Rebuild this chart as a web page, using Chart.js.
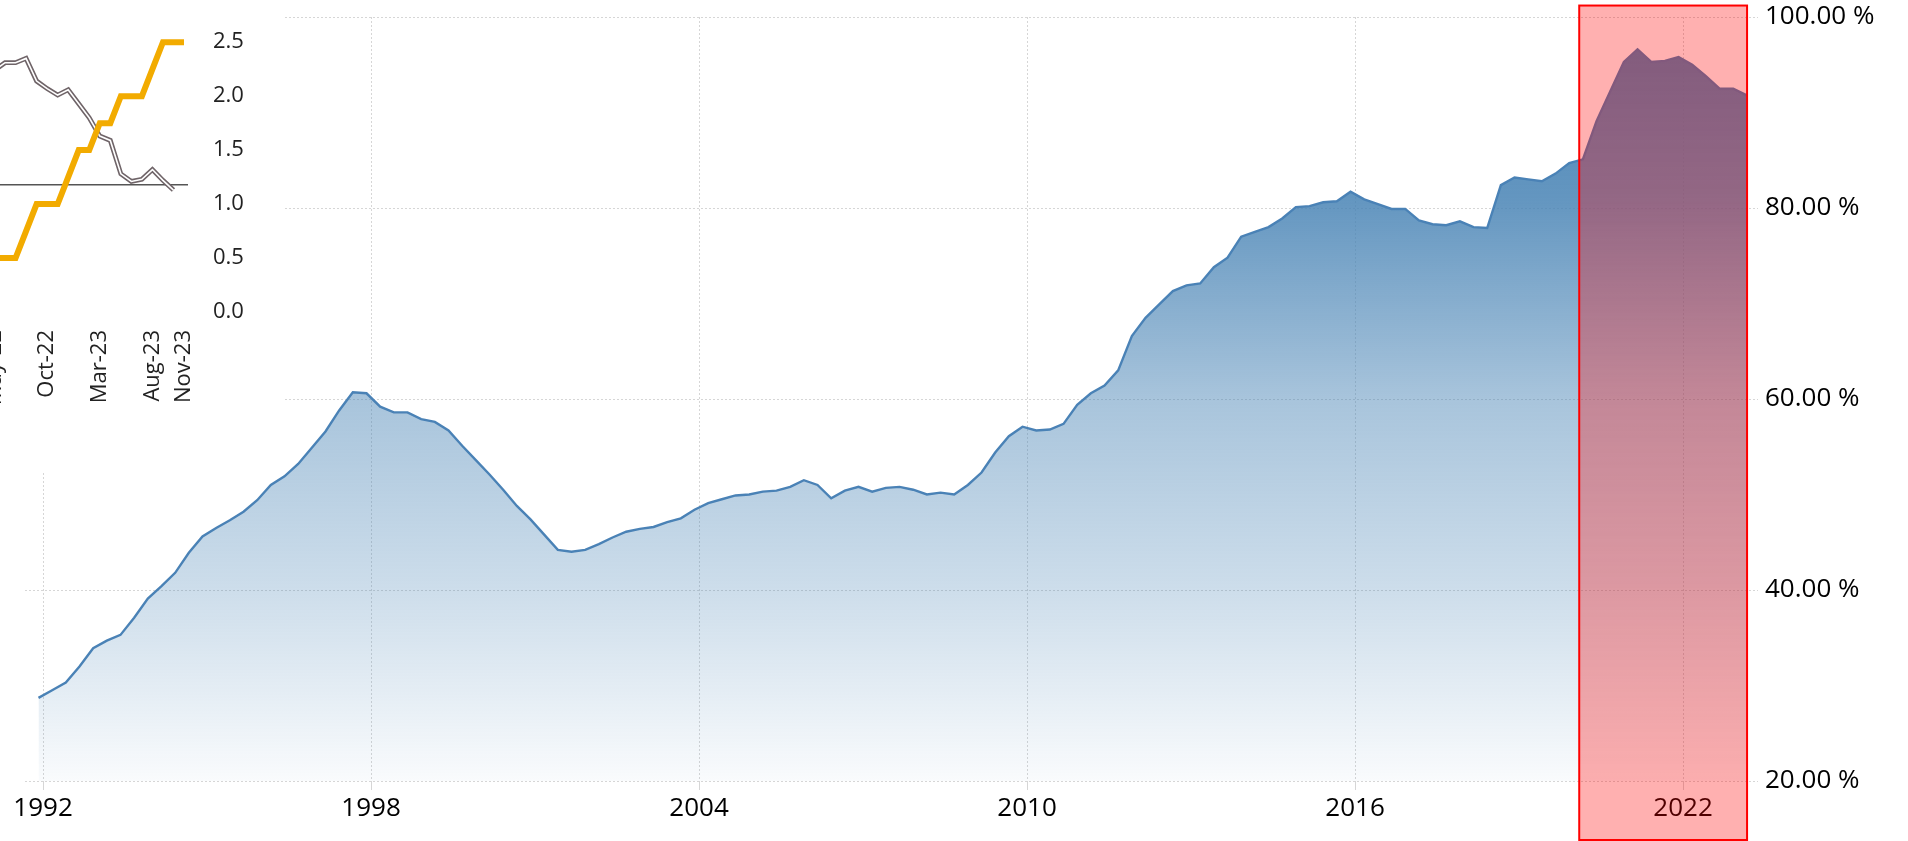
<!DOCTYPE html>
<html>
<head>
<meta charset="utf-8">
<script src="https://cdn.jsdelivr.net/npm/chart.js"></script>
<style>
  html, body { margin: 0; padding: 0; background: #fff; overflow: hidden; }
  #wrap { position: relative; width: 1908px; height: 841px; }
  #mainChart { position: absolute; left: 0; top: 0; }
  #insetChart { position: absolute; left: -60px; top: 0; background: #fff; }
</style>
</head>
<body>
<div id="wrap">
  <canvas id="mainChart" width="1908" height="841"></canvas>
  <canvas id="insetChart" width="343" height="472"></canvas>
</div>
<script>
// main series: quarterly, first point Q4 1991, last point Q1 2023
const firstQuarterYear = 1991 + 11 / 12;
const debtToGdp = [
  28.7,                                   // 1991 Q4
  29.5, 30.3, 32.0, 33.9,                 // 1992
  34.7, 35.3, 37.1, 39.1,                 // 1993
  40.4, 41.8, 43.9, 45.6,                 // 1994
  46.5, 47.3, 48.2, 49.4,                 // 1995
  51.0, 51.9, 53.2, 54.9,                 // 1996
  56.6, 58.8, 60.7, 60.6,                 // 1997
  59.2, 58.6, 58.6, 57.9,                 // 1998
  57.6, 56.7, 55.1, 53.6,                 // 1999
  52.1, 50.5, 48.8, 47.4,                 // 2000
  45.8, 44.2, 44.0, 44.2,                 // 2001
  44.8, 45.5, 46.1, 46.4,                 // 2002
  46.6, 47.1, 47.5, 48.4,                 // 2003
  49.1, 49.5, 49.9, 50.0,                 // 2004
  50.3, 50.4, 50.8, 51.5,                 // 2005
  51.0, 49.6, 50.4, 50.8,                 // 2006
  50.3, 50.7, 50.8, 50.5,                 // 2007
  50.0, 50.2, 50.0, 51.0,                 // 2008
  52.3, 54.4, 56.1, 57.1,                 // 2009
  56.7, 56.8, 57.4, 59.4,                 // 2010
  60.6, 61.4, 63.0, 66.6,                 // 2011
  68.5, 69.9, 71.3, 71.9,                 // 2012
  72.1, 73.8, 74.8, 77.0,                 // 2013
  77.5, 78.0, 78.9, 80.1,                 // 2014
  80.2, 80.6, 80.7, 81.7,                 // 2015
  80.9, 80.4, 79.9, 79.9,                 // 2016
  78.7, 78.3, 78.2, 78.6,                 // 2017
  78.0, 77.9, 82.4, 83.2,                 // 2018
  83.0, 82.8, 83.6, 84.7,                 // 2019
  85.1, 89.1, 92.2, 95.3,                 // 2020
  96.6, 95.3, 95.4, 95.8,                 // 2021
  95.0, 93.8, 92.5, 92.5,                 // 2022
  91.8                                    // 2023 Q1
];
const yearTicks = [1992, 1998, 2004, 2010, 2016, 2022];
const percentTicks = [20, 40, 60, 80, 100];
const highlightFrom = 2020.1;
const highlightTo = 2023.17;
const highlightTop = 101.2;

// inset chart (top left)
const insetMonths = ['May-22', 'Jun-22', 'Jul-22', 'Aug-22', 'Sep-22', 'Oct-22', 'Nov-22', 'Dec-22',
  'Jan-23', 'Feb-23', 'Mar-23', 'Apr-23', 'May-23', 'Jun-23', 'Jul-23', 'Aug-23', 'Sep-23', 'Oct-23', 'Nov-23'];
const insetRate = [0.5, 0.5, 0.5, 0.75, 1.0, 1.0, 1.0, 1.25, 1.5, 1.5, 1.75, 1.75, 2.0, 2.0, 2.0, 2.25, 2.5, 2.5, 2.5];
const insetInflation = [2.24, 2.31, 2.31, 2.35, 2.14, 2.07, 2.01, 2.06, 1.93, 1.80, 1.63, 1.59, 1.28, 1.21, 1.23, 1.32, 1.22, 1.13, null];
const insetTickLabels = ['May-22', 'Oct-22', 'Mar-23', 'Aug-23', 'Nov-23'];
const insetReference = 1.18;

const FONT = '"Open Sans", "Liberation Sans", sans-serif';

function quarterX(i) {
    return firstQuarterYear + i * 0.25;
}

const highlightPlugin = {
    id: 'highlight',
    afterDraw(chart) {
        const { ctx, scales: { x, y } } = chart;
        const left = x.getPixelForValue(highlightFrom);
        const right = x.getPixelForValue(highlightTo);
        const top = y.getPixelForValue(highlightTop);
        const bottom = chart.height - 1;
        ctx.save();
        ctx.fillStyle = 'rgba(255, 0, 0, 0.31)';
        ctx.fillRect(left, top, right - left, bottom - top);
        ctx.strokeStyle = '#ff0000';
        ctx.lineWidth = 2;
        ctx.strokeRect(left, top, right - left, bottom - top);
        ctx.restore();
    }
};

const referenceLinePlugin = {
    id: 'referenceLine',
    beforeDatasetsDraw(chart) {
        const { ctx, chartArea, scales: { y } } = chart;
        const py = y.getPixelForValue(insetReference);
        ctx.save();
        ctx.strokeStyle = '#555';
        ctx.lineWidth = 1.5;
        ctx.beginPath();
        ctx.moveTo(0, py);
        ctx.lineTo(chartArea.right + 4, py);
        ctx.stroke();
        ctx.restore();
    }
};

function areaGradient(context) {
    const { chart } = context;
    const area = chart.chartArea;
    if (!area) return 'rgba(70,130,180,0.5)';
    const g = chart.ctx.createLinearGradient(0, area.top, 0, area.bottom);
    g.addColorStop(0, 'rgba(70,130,180,1)');
    g.addColorStop(0.24, 'rgba(70,130,180,0.84)');
    g.addColorStop(0.5, 'rgba(70,130,180,0.47)');
    g.addColorStop(0.75, 'rgba(70,130,180,0.27)');
    g.addColorStop(1, 'rgba(70,130,180,0.03)');
    return g;
}

function drawMain() {
    const ctx = document.getElementById('mainChart').getContext('2d');
    new Chart(ctx, {
        type: 'line',
        data: {
            datasets: [{
                data: debtToGdp.map((v, i) => ({ x: quarterX(i), y: v })),
                borderColor: '#4a82b6',
                borderWidth: 2.4,
                backgroundColor: areaGradient,
                fill: 'start',
                pointRadius: 0,
                tension: 0
            }]
        },
        options: {
            responsive: false,
            animation: false,
            devicePixelRatio: 1,
            layout: { padding: { left: 25, top: 17, right: 0, bottom: 0 } },
            plugins: { legend: { display: false }, tooltip: { enabled: false } },
            scales: {
                x: {
                    type: 'linear',
                    min: 1991.67,
                    max: 2023.37,
                    afterBuildTicks: s => { s.ticks = yearTicks.map(v => ({ value: v })); },
                    afterFit: s => { s.height = 60; },
                    grid: { color: '#d6d6d6', tickLength: 9 },
                    border: { display: false, dash: [2, 2] },
                    ticks: {
                        font: { family: FONT, size: 26 },
                        color: '#000',
                        padding: 3,
                        maxRotation: 0,
                        autoSkip: false,
                        callback: v => String(v)
                    }
                },
                y: {
                    position: 'right',
                    min: 20,
                    max: 100,
                    afterBuildTicks: s => { s.ticks = percentTicks.map(v => ({ value: v })); },
                    afterFit: s => { s.width = 150; s.paddingTop = 0; },
                    grid: { color: '#d6d6d6', drawTicks: false },
                    border: { display: false, dash: [2, 2] },
                    ticks: {
                        font: { family: FONT, size: 26, lineHeight: 1 },
                        color: '#000',
                        padding: 7,
                        callback: v => v.toFixed(2) + ' %'
                    }
                }
            }
        },
        plugins: [highlightPlugin]
    });
}

function drawInset() {
    const ctx = document.getElementById('insetChart').getContext('2d');
    new Chart(ctx, {
        type: 'line',
        data: {
            labels: insetMonths,
            datasets: [
                { data: insetRate, borderColor: '#f2ab00', borderWidth: 6, pointRadius: 0, tension: 0, clip: false },
                { data: insetInflation, borderColor: '#ffffff', borderWidth: 1.6, pointRadius: 0, tension: 0, clip: false },
                { data: insetInflation, borderColor: '#6f6468', borderWidth: 4.8, pointRadius: 0, tension: 0, clip: false }
            ]
        },
        options: {
            responsive: false,
            animation: false,
            devicePixelRatio: 1,
            layout: { padding: { left: 54.5, top: 38, right: 0, bottom: 0 } },
            plugins: { legend: { display: false }, tooltip: { enabled: false } },
            scales: {
                x: {
                    afterFit: s => { s.height = 160; },
                    grid: { display: false, drawTicks: false },
                    border: { display: false },
                    ticks: {
                        font: { family: FONT, size: 22 },
                        color: '#222',
                        padding: 18,
                        minRotation: 90,
                        maxRotation: 90,
                        autoSkip: false,
                        callback: function (v) {
                            const label = this.getLabelForValue(v);
                            return insetTickLabels.includes(label) ? label : '';
                        }
                    }
                },
                y: {
                    position: 'right',
                    min: 0,
                    max: 2.5,
                    afterFit: s => { s.width = 99; },
                    grid: { display: false, drawTicks: false },
                    border: { display: false },
                    ticks: {
                        stepSize: 0.5,
                        font: { family: FONT, size: 22 },
                        color: '#222',
                        padding: 29,
                        callback: v => v.toFixed(1)
                    }
                }
            }
        },
        plugins: [referenceLinePlugin]
    });
}

document.fonts.load('26px "Open Sans"').then(() => {
    drawMain();
    drawInset();
}, () => {
    drawMain();
    drawInset();
});
</script>
</body>
</html>
